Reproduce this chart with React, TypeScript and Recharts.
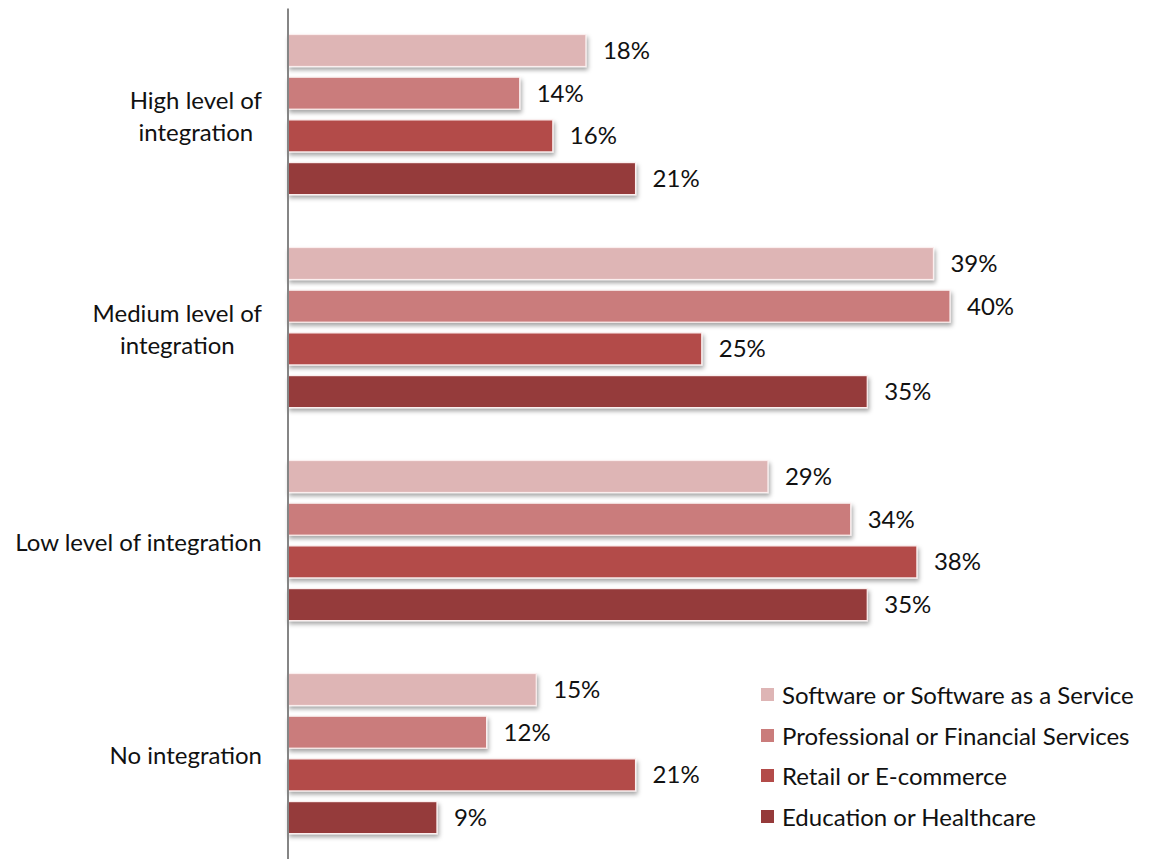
import React from "react";
import { BarChart, Bar, XAxis, YAxis, LabelList } from "recharts";

const categories = [
  "High level of\nintegration",
  "Medium level of\nintegration",
  "Low level of integration",
  "No integration",
];
const software = [0.18, 0.39, 0.29, 0.15];
const professional = [0.14, 0.4, 0.34, 0.12];
const retail = [0.16, 0.25, 0.38, 0.21];
const education = [0.21, 0.35, 0.35, 0.09];

const seriesNames = [
  "Software or Software as a Service",
  "Professional or Financial Services",
  "Retail or E-commerce",
  "Education or Healthcare",
];
const seriesKeys = ["software", "professional", "retail", "education"];
const colors = ["#DEB5B5", "#CA7C7B", "#B34B49", "#953A3A"];

const data = categories.map((c, i) => ({
  category: c,
  software: software[i],
  professional: professional[i],
  retail: retail[i],
  education: education[i],
}));

const FONT = "Lato, 'Open Sans', sans-serif";
const FS = 24;

let canvasCtx: CanvasRenderingContext2D | null = null;
function measure(text: string): number {
  if (!canvasCtx) {
    const c = document.createElement("canvas");
    canvasCtx = c.getContext("2d");
  }
  if (!canvasCtx) return text.length * FS * 0.5;
  canvasCtx.font = `${FS}px Lato`;
  return canvasCtx.measureText(text).width;
}

const CategoryTick = (props: any) => {
  const { x, y, payload } = props;
  const lines = String(payload.value).split("\n");
  const blockW = Math.max(...lines.map(measure));
  const right = x - 18;
  const cx = right - blockW / 2;
  const lh = 32;
  const startY = y - ((lines.length - 1) * lh) / 2;
  return (
    <g>
      {lines.map((l, i) => (
        <text
          key={i}
          x={cx}
          y={startY + i * lh}
          textAnchor="middle"
          dominantBaseline="central"
          fontFamily={FONT}
          fontSize={FS}
          fill="#111"
        >
          {l}
        </text>
      ))}
    </g>
  );
};

const BarShape = (props: any) => {
  const { x, y, width, height, fill } = props;
  if (width <= 0) return null;
  return (
    <rect
      x={x}
      y={y}
      width={width}
      height={height}
      fill={fill}
      stroke="#fbeeee"
      strokeWidth={1.2}
      filter="url(#barShadow)"
    />
  );
};

const pct = (v: any) => `${Math.round(Number(v) * 100)}%`;

export default function App() {
  return (
    <div
      style={{
        position: "fixed",
        left: 0,
        top: 0,
        width: 1149,
        height: 859,
        overflow: "hidden",
        background: "#fff",
      }}
    >
      <BarChart
        width={1149}
        height={870}
        data={data}
        layout="vertical"
        margin={{ top: 8.5, right: 33.5, bottom: 9.5, left: 0 }}
        barSize={32}
        barGap={10.7}
      >
        <defs>
          <filter id="barShadow" x="-5%" y="-30%" width="115%" height="180%">
            <feDropShadow dx="1.5" dy="3" stdDeviation="2" floodColor="#000" floodOpacity="0.35" />
          </filter>
        </defs>
        <XAxis type="number" domain={[0, 0.5]} hide />
        <YAxis
          type="category"
          dataKey="category"
          width={288}
          axisLine={{ stroke: "#858585", strokeWidth: 2 }}
          tickLine={false}
          tick={<CategoryTick />}
        />
        {seriesKeys.map((k, i) => (
          <Bar
            key={k}
            dataKey={k}
            name={seriesNames[i]}
            fill={colors[i]}
            isAnimationActive={false}
            shape={<BarShape />}
          >
            <LabelList
              dataKey={k}
              position="right"
              offset={17}
              formatter={pct}
              style={{ fontFamily: FONT, fontSize: FS, fill: "#111" }}
            />
          </Bar>
        ))}
      </BarChart>
      <div
        style={{
          position: "absolute",
          left: 761,
          top: 674,
          fontFamily: FONT,
          fontSize: FS,
          color: "#111",
        }}
      >
        {seriesNames.map((n, i) => (
          <div
            key={n}
            style={{ display: "flex", alignItems: "center", height: 40.7, whiteSpace: "nowrap" }}
          >
            <span
              style={{
                display: "inline-block",
                width: 13,
                height: 13,
                background: colors[i],
                marginRight: 8,
              }}
            />
            <span>{n}</span>
          </div>
        ))}
      </div>
    </div>
  );
}
